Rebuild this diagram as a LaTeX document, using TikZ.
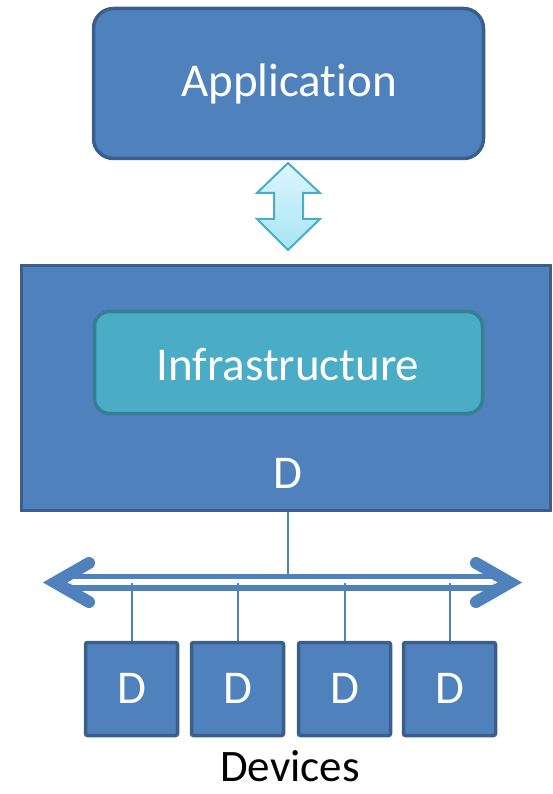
\documentclass[tikz,border=0pt]{standalone}
\usepackage{fontspec}
\setmainfont[Ligatures=NoCommon]{Carlito}
\definecolor{boxblue}{HTML}{4F81BD}
\definecolor{boxedge}{HTML}{3A5F8B}
\definecolor{infrafill}{HTML}{4BACC6}
\definecolor{infraedge}{HTML}{357F92}
\definecolor{arrowtop}{HTML}{DDF6FD}
\definecolor{arrowbot}{HTML}{A6E4F5}
\tikzset{
  bigfont/.style={font=\fontsize{47}{52}\selectfont},
  bluebox/.style={draw=boxedge, fill=boxblue, line width=3.5pt, inner sep=0pt},
  devbox/.style={bluebox, minimum width=92pt, minimum height=93pt, rounded corners=2pt},
  whitetext/.style={bigfont, text=white, anchor=base, inner sep=0pt},
  thinline/.style={draw=boxblue, line width=2pt},
}
\begin{document}
\begin{tikzpicture}[x=1pt,y=-1pt]
\useasboundingbox (0,0) rectangle (553,794);
% application
\node[bluebox, rounded corners=20pt, minimum width=390pt, minimum height=150pt] (app) at (288.5,83.5) {};
\node[whitetext] (applabel) at (289,97) {Application};
% main box
\node[bluebox, minimum width=529pt, minimum height=245pt] (main) at (286,388) {};
\node[draw=infraedge, fill=infrafill, line width=3.5pt, rounded corners=15pt, minimum width=388pt, minimum height=102pt, inner sep=0pt] (infra) at (288.5,362.5) {};
\node[whitetext] (infralabel) at (288,380) {Infrastructure};
\node[whitetext] (dlabel) at (288,488) {D};
% block double arrow
\coordinate (at) at (288,163);
\coordinate (ab) at (288,250);
\shade[top color=arrowtop, bottom color=arrowbot, draw=infrafill, line width=2pt, line join=miter]
  (at) -- (320,193) -- (303,193) -- (303,219) -- (320,219) -- (ab) -- (257,219) -- (274,219) -- (274,193) -- (257,193) -- cycle;
% bus
\coordinate (busL) at (70,582.5);
\coordinate (busR) at (495,582.5);
\draw[boxblue, line width=17pt] (busL) -- (busR);
\draw[white, line width=6pt, line cap=round] (73,582) -- (492,582);
\draw[boxblue, line width=12pt, line cap=round, line join=miter] (89,563) -- (55,582.5) -- (89,602);
\draw[boxblue, line width=12pt, line cap=round, line join=miter] (476,563) -- (510,582.5) -- (476,602);
\coordinate (tap) at (288,575);
\draw[thinline] (tap |- main.south) -- (tap);
% devices
\foreach \i/\x in {1/131.5, 2/237.5, 3/344.5, 4/449.5} {
  \node[devbox] (d\i) at (\x,689) {};
  \node[whitetext] (dl\i) at (\x,703) {D};
  \coordinate (t\i) at (\x,583);
  \draw[thinline] (t\i) -- (d\i.north);
}
\node[font=\fontsize{45}{50}\selectfont, text=black, anchor=base, inner sep=0pt] (devlabel) at (290,781) {Devices};
\end{tikzpicture}
\end{document}
